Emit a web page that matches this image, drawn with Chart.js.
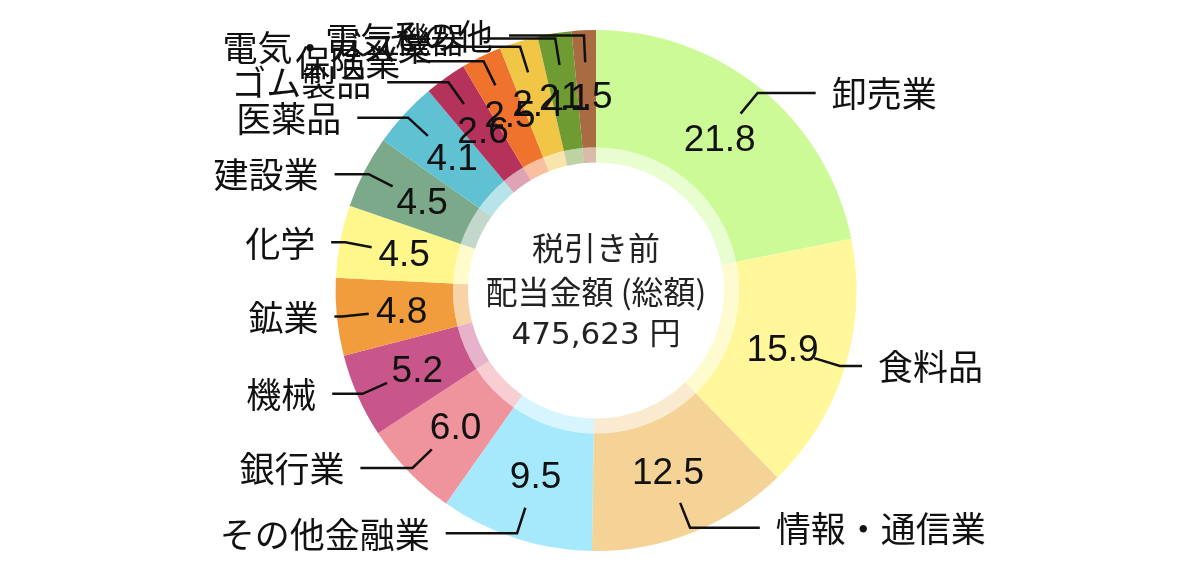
<!DOCTYPE html>
<html lang="ja">
<head>
<meta charset="utf-8">
<title>配当金額</title>
<script src="https://cdn.jsdelivr.net/npm/chart.js@4.4.1/dist/chart.umd.min.js"></script>
<style>
    html, body { margin: 0; padding: 0; background: #fff; }
    #wrap { width: 1200px; height: 571px; position: relative; }
</style>
</head>
<body>
<div id="wrap"><canvas id="divChart"></canvas></div>
<script>
// --- DATA ---
const categories = ['卸売業', '食料品', '情報・通信業', 'その他金融業', '銀行業', '機械', '鉱業', '化学',
    '建設業', '医薬品', 'ゴム製品', '保険業', '電気・ガス業', '電気機器', 'その他'];
const shares = [21.8, 15.9, 12.5, 9.5, 6.0, 5.2, 4.8, 4.5, 4.5, 4.1, 2.6, 2.5, 2.4, 2.1, 1.5];
const sliceColors = ['#ccfa96', '#fff799', '#f5d296', '#a6e9fc', '#ef939d', '#c9568b', '#f19d3d', '#fff68c',
    '#7ba98a', '#60c1d3', '#b5325b', '#ef732c', '#f1c646', '#6f9b33', '#a96b41'];
const centerLines = ['税引き前', '配当金額 (総額)', '475,623 円'];

const CJK = '"Noto Sans CJK JP", "Noto Sans", sans-serif';
const NUM = '"Liberation Sans", "Noto Sans CJK JP", sans-serif';
const MID = '"DejaVu Sans", "Noto Sans CJK JP", sans-serif';

// lichtere band aan de binnenkant
const fade = (hex, a) => {
    const n = parseInt(hex.slice(1), 16);
    return `rgba(${(n >> 16) & 255},${(n >> 8) & 255},${n & 255},${a})`;
};

// --- PLUGIN: labels, lijnen en tekst in het midden ---
const labelPlugin = {
    id: 'outLabels',
    afterDatasetsDraw(chart) {
        const ctx = chart.ctx;
        const meta = chart.getDatasetMeta(0);
        ctx.save();
        ctx.strokeStyle = '#111';
        ctx.fillStyle = '#111';
        ctx.lineWidth = 2.5;

        meta.data.forEach((arc, i) => {
            const { x, y, startAngle, endAngle, outerRadius } = arc.getProps(['x', 'y', 'startAngle', 'endAngle', 'outerRadius'], true);
            const mid = (startAngle + endAngle) / 2;
            const cos = Math.cos(mid), sin = Math.sin(mid);
            const right = cos >= 0;

            // lijn
            const r1 = outerRadius * 0.877, r2 = outerRadius * 0.98;
            const sx = x + cos * r1, sy = y + sin * r1;
            const ex = x + cos * r2, ey = y + sin * r2;
            const len = Math.max(6, 75 * Math.abs(sin));
            const hx = ex + (right ? len : -len);
            ctx.beginPath();
            ctx.moveTo(sx, sy);
            ctx.lineTo(ex, ey);
            ctx.lineTo(hx, ey);
            ctx.stroke();

            // categorie tekst
            ctx.font = `35px ${CJK}`;
            ctx.textBaseline = 'middle';
            ctx.textAlign = right ? 'left' : 'right';
            ctx.fillText(categories[i], hx + (right ? 16 : -16), ey + 1);
        });

        // waarden in de segmenten
        meta.data.forEach((arc, i) => {
            const { x, y, startAngle, endAngle, outerRadius } = arc.getProps(['x', 'y', 'startAngle', 'endAngle', 'outerRadius'], true);
            const mid = (startAngle + endAngle) / 2;
            const r = outerRadius * 0.75;
            ctx.font = `37px ${NUM}`;
            ctx.textAlign = 'center';
            ctx.textBaseline = 'middle';
            ctx.fillText(shares[i].toFixed(1), x + Math.cos(mid) * r, y + Math.sin(mid) * r + 2);
        });

        // midden
        const c = meta.data[0];
        ctx.fillStyle = '#222';
        centerLines.forEach((t, k) => {
            ctx.font = k === 2 ? `31px ${MID}` : `32px ${CJK}`;
            ctx.fillText(t, c.x, c.y - 43 + k * 44);
        });
        ctx.restore();
    }
};

new Chart(document.getElementById('divChart'), {
    type: 'doughnut',
    data: {
        labels: categories,
        datasets: [{
            data: shares,
            backgroundColor: sliceColors,
            borderWidth: 0,
            weight: 117
        }, {
            data: shares,
            backgroundColor: sliceColors.map(c => fade(c, 0.45)),
            borderWidth: 0,
            weight: 15
        }]
    },
    options: {
        responsive: true,
        maintainAspectRatio: false,
        animation: false,
        cutout: 128,
        layout: { padding: { top: 30, bottom: 20, left: 0, right: 8 } },
        plugins: {
            legend: { display: false },
            tooltip: { enabled: false }
        }
    },
    plugins: [labelPlugin]
});
</script>
</body>
</html>
